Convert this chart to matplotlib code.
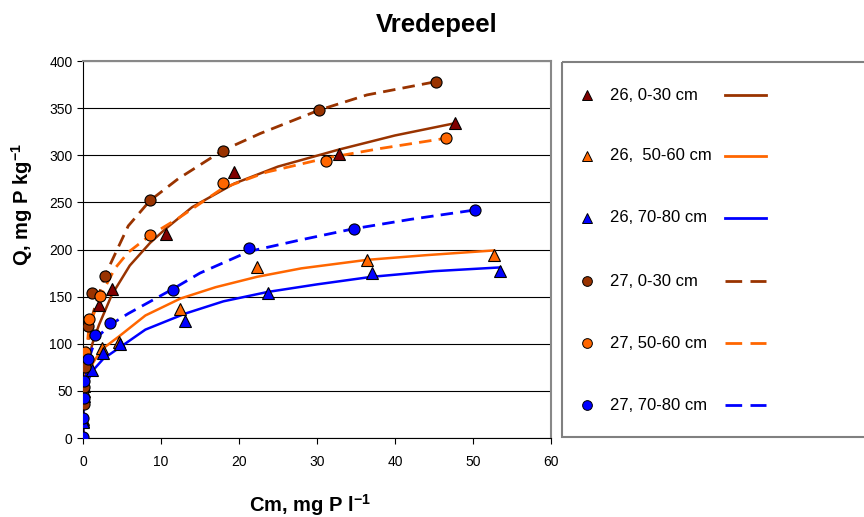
import numpy as np
import matplotlib
matplotlib.use('Agg')
import matplotlib.pyplot as plt
from matplotlib.patches import Rectangle

plt.rcParams['font.family'] = ['Liberation Sans', 'DejaVu Sans']
plt.rcParams['mathtext.fontset'] = 'custom'
plt.rcParams['mathtext.rm'] = 'Liberation Sans'
plt.rcParams['mathtext.bf'] = 'Liberation Sans:bold'

# measured points (Cm, Q)
x26_0_30 = [0.02, 0.1, 2.05, 3.7, 10.6, 19.4, 32.8, 47.7]
q26_0_30 = [20, 55, 141, 158, 216, 282, 301, 334]
x26_50_60 = [0.02, 0.1, 2.4, 4.65, 12.5, 22.3, 36.4, 52.7]
q26_50_60 = [18, 50, 95, 102, 137, 181, 189, 194]
x26_70_80 = [0.02, 0.1, 1.2, 2.6, 4.7, 13.1, 23.7, 37.0, 53.5]
q26_70_80 = [17, 45, 72, 90, 100, 124, 154, 175, 177]
x27_0_30 = [0.1, 0.15, 0.25, 0.68, 1.2, 2.8, 8.6, 17.9, 30.3, 45.2]
q27_0_30 = [36, 54, 75, 119, 154, 172, 252, 305, 348, 378]
x27_50_60 = [0.2, 0.77, 2.2, 8.6, 17.9, 31.2, 46.5]
q27_50_60 = [91, 126, 151, 215, 271, 294, 318]
x27_70_80 = [0.0, 0.05, 0.1, 0.15, 0.68, 1.6, 3.46, 11.5, 21.3, 34.7, 50.3]
q27_70_80 = [1, 21, 42, 60, 84, 109, 122, 157, 202, 222, 242]

# fitted curves
fx26_0_30 = [0, 0.05, 0.2, 0.5, 1.2, 2.05, 3.7, 6, 8.6, 10.6, 14, 19.4, 25, 32.8, 40, 47.7]
fq26_0_30 = [0, 30, 55, 75, 100, 120, 152, 183, 207, 222, 245, 270, 288, 306, 321, 334]
fx26_50_60 = [0, 0.05, 0.2, 0.5, 1.3, 2.4, 4.65, 8, 12.5, 17, 22.3, 28, 36.4, 44, 52.7]
fq26_50_60 = [0, 25, 45, 62, 80, 94, 108, 130, 148, 160, 171, 180, 189, 194, 199]
fx26_70_80 = [0, 0.05, 0.2, 0.5, 1.2, 2.6, 4.7, 8, 13.1, 18, 23.7, 30, 37, 45, 53.5]
fq26_70_80 = [0, 28, 45, 58, 71, 84, 96, 115, 132, 145, 155, 163, 171, 177, 181]
fx27_0_30 = [0, 0.05, 0.2, 0.5, 1.2, 2.8, 5.8, 8.6, 12.2, 17.9, 22.7, 30.3, 36.4, 45.2]
fq27_0_30 = [0, 35, 65, 95, 130, 172, 225, 252, 275, 305, 323, 348, 364, 378]
fx27_50_60 = [0, 0.05, 0.2, 0.77, 2.2, 4.1, 5.8, 8.6, 12.2, 17.9, 23.5, 31.2, 38, 46.5]
fq27_50_60 = [0, 35, 70, 118, 150, 180, 197, 215, 233, 265, 282, 297, 307, 318]
fx27_70_80 = [0, 0.05, 0.2, 0.68, 1.6, 3.46, 5.8, 11.5, 15, 21.3, 27.8, 34.7, 42, 50.3]
fq27_70_80 = [0, 30, 55, 82, 105, 120, 132, 158, 175, 198, 210, 222, 232, 242]

labels = ['26, 0-30 cm', '26,  50-60 cm', '26, 70-80 cm',
          '27, 0-30 cm', '27, 50-60 cm', '27, 70-80 cm']

brown = '#993300'
darkred = '#800000'
orange = '#FF6600'
blue = '#0000FF'
dash = (0, (4.5, 2.6))

fig = plt.figure(figsize=(8.64, 5.17), dpi=100)
ax = fig.add_axes([83/864, 1-438/517, (551-83)/864, (438-61)/517])

# fit lines
ax.plot(fx26_0_30, fq26_0_30, color=brown, lw=1.8, zorder=2)
ax.plot(fx26_50_60, fq26_50_60, color=orange, lw=1.8, zorder=2)
ax.plot(fx26_70_80, fq26_70_80, color=blue, lw=1.8, zorder=2)
ax.plot(fx27_0_30, fq27_0_30, color=brown, lw=2, ls=dash, zorder=2)
ax.plot(fx27_50_60, fq27_50_60, color=orange, lw=2, ls=dash, zorder=2)
ax.plot(fx27_70_80, fq27_70_80, color=blue, lw=2, ls=dash, zorder=2)

# points
mk = dict(ls='none', mec='black', mew=0.8, zorder=3)
ax.plot(x26_0_30, q26_0_30, marker='^', ms=9, mfc=darkred, **mk)
ax.plot(x26_50_60, q26_50_60, marker='^', ms=9, mfc=orange, **mk)
ax.plot(x26_70_80, q26_70_80, marker='^', ms=9, mfc=blue, **mk)
ax.plot(x27_0_30, q27_0_30, marker='o', ms=8, mfc=brown, **mk)
ax.plot(x27_50_60, q27_50_60, marker='o', ms=8, mfc=orange, **mk)
ax.plot(x27_70_80, q27_70_80, marker='o', ms=8, mfc=blue, **mk)

ax.set_xlim(0, 60)
ax.set_ylim(0, 400)
ax.set_xticks(range(0, 61, 10))
ax.set_yticks(range(0, 401, 50))
ax.yaxis.grid(True, color='black', lw=0.8)
ax.set_axisbelow(True)
ax.tick_params(direction='out', length=4, width=0.8, labelsize=10, color='black')
ax.tick_params(axis='x', pad=8)
for s in ['top', 'right']:
    ax.spines[s].set_color('#888888')
    ax.spines[s].set_linewidth(1.5)
for s in ['left', 'bottom']:
    ax.spines[s].set_color('black')
    ax.spines[s].set_linewidth(0.8)

fig.text(437/864, 1-25/517, 'Vredepeel', ha='center', va='center',
         fontsize=18.5, fontweight='bold')
fig.text(22/864, 1-204/517, r'Q, mg P kg$^{\mathbf{-1}}$', rotation=90,
         ha='center', va='center', fontsize=14.5, fontweight='bold')
fig.text(310/864, 1-505/517, r'Cm, mg P l$^{\mathbf{-1}}$', ha='center',
         va='center', fontsize=14.5, fontweight='bold')

# legend drawn by hand
lg = fig.add_axes([0, 0, 1, 1], zorder=5)
lg.set_xlim(0, 864)
lg.set_ylim(517, 0)
lg.axis('off')
lg.add_patch(Rectangle((562, 62), 320, 375, fill=False, ec='#808080', lw=1.5))
rows = [95, 156, 218, 281, 343, 405]
mks = ['^', '^', '^', 'o', 'o', 'o']
mfcs = [darkred, orange, blue, brown, orange, blue]
lcs = [brown, orange, blue, brown, orange, blue]
lss = ['-', '-', '-', (0, (6, 3)), (0, (6, 3)), (0, (6, 3))]
for yy, m, fc, lc, ls, lab in zip(rows, mks, mfcs, lcs, lss, labels):
    lg.plot([587], [yy], marker=m, ms=7, mfc=fc, mec='black', mew=0.7)
    lg.text(610, yy, lab, va='center', ha='left', fontsize=12)
    lg.plot([725, 766], [yy, yy], color=lc, lw=2, ls=ls)

fig.savefig('out.png', dpi=100)
